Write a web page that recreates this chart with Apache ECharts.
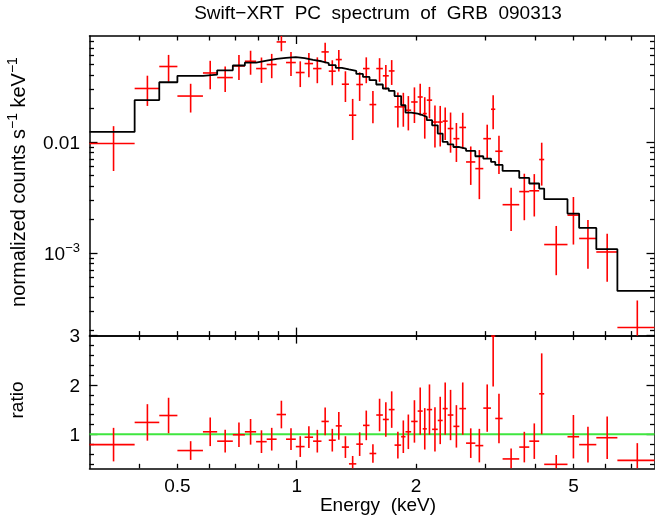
<!DOCTYPE html>
<html><head><meta charset="utf-8">
<script src="https://cdn.jsdelivr.net/npm/echarts@6/dist/echarts.min.js"></script>
<style>html,body{margin:0;padding:0;background:#fff}#c{width:655px;height:522px}</style>
</head><body><div id="c"></div>
<script>
// ---- data ----
const binEdges = [0.30, 0.39, 0.45, 0.50, 0.58, 0.63, 0.69, 0.74, 0.79, 0.84, 0.89, 0.94, 0.995, 1.047, 1.10, 1.155, 1.205, 1.255, 1.30, 1.355, 1.414, 1.47, 1.527, 1.588, 1.65, 1.708, 1.766, 1.835, 1.882, 1.945, 2.02, 2.08, 2.13, 2.197, 2.27, 2.336, 2.405, 2.486, 2.574, 2.676, 2.824, 2.958, 3.094, 3.171, 3.309, 3.645, 3.864, 4.093, 4.214, 4.825, 5.163, 5.705, 6.448, 8.03];
const fluxData = [0.00967, 0.0303, 0.0478, 0.0259, 0.0418, 0.0380, 0.0484, 0.0533, 0.0458, 0.0498, 0.0796, 0.0519, 0.0422, 0.0508, 0.0458, 0.0647, 0.0434, 0.0552, 0.0331, 0.0174, 0.0329, 0.0458, 0.0217, 0.0458, 0.0394, 0.0436, 0.0207, 0.0207, 0.0193, 0.0229, 0.0254, 0.0180, 0.0238, 0.0151, 0.0151, 0.0154, 0.0132, 0.0107, 0.0135, 0.0066, 0.00575, 0.0107, 0.0197, 0.00824, 0.00272, 0.00357, 0.00363, 0.00694, 0.00119, 0.00219, 0.00135, 0.00102, 0.000213];
const fluxErr = [0.0042, 0.0092, 0.013, 0.0075, 0.012, 0.0098, 0.0122, 0.013, 0.0118, 0.0123, 0.014, 0.0127, 0.011, 0.0125, 0.012, 0.0135, 0.011, 0.012, 0.0102, 0.007, 0.0095, 0.012, 0.007, 0.011, 0.0098, 0.011, 0.0072, 0.007, 0.0066, 0.0081, 0.0081, 0.0073, 0.0075, 0.0062, 0.006, 0.005, 0.0052, 0.0041, 0.0048, 0.0025, 0.0027, 0.0036, 0.0067, 0.0031, 0.00114, 0.0016, 0.0015, 0.0029, 0.00056, 0.001, 0.00063, 0.00047, 0.00016];
const modelValues = [0.0123, 0.0238, 0.0345, 0.0394, 0.0404, 0.0442, 0.0488, 0.0519, 0.054, 0.056, 0.0572, 0.058, 0.0568, 0.0548, 0.0533, 0.0512, 0.0491, 0.0465, 0.045, 0.0436, 0.041, 0.0385, 0.036, 0.0329, 0.0303, 0.0288, 0.0259, 0.0214, 0.0184, 0.018, 0.0174, 0.0168, 0.0157, 0.0141, 0.0119, 0.0100, 0.0095, 0.0090, 0.0087, 0.0083, 0.00743, 0.00708, 0.0066, 0.0062, 0.00548, 0.00474, 0.00422, 0.0038, 0.00305, 0.00226, 0.00168, 0.00108, 0.000455];
const ratioData = [0.79, 1.24, 1.38, 0.67, 1.05, 0.86, 0.99, 1.05, 0.85, 0.90, 1.40, 0.90, 0.75, 0.94, 0.86, 1.26, 0.88, 1.17, 0.74, 0.40, 0.80, 1.18, 0.61, 1.39, 1.30, 1.50, 0.78, 0.95, 1.05, 1.26, 1.47, 1.11, 1.50, 1.10, 1.28, 1.52, 1.39, 1.16, 1.52, 0.82, 0.77, 1.53, 2.99, 1.32, 0.50, 0.74, 0.86, 1.82, 0.39, 0.95, 0.79, 0.93, 0.47];
const ratioErr = [0.34, 0.37, 0.36, 0.19, 0.29, 0.23, 0.25, 0.26, 0.23, 0.23, 0.28, 0.22, 0.21, 0.22, 0.23, 0.28, 0.23, 0.28, 0.22, 0.16, 0.24, 0.30, 0.19, 0.33, 0.35, 0.37, 0.27, 0.33, 0.35, 0.43, 0.48, 0.42, 0.51, 0.45, 0.48, 0.53, 0.51, 0.43, 0.53, 0.30, 0.34, 0.48, 1.02, 0.50, 0.21, 0.31, 0.36, 0.82, 0.19, 0.44, 0.36, 0.43, 0.35];
const referenceRatio = [[0.3, 1], [8, 1]];

const xLabelValues = [0.5, 1, 2, 5];
const xMajorTicks = [1];
const xMinorTicks = [0.4, 0.5, 0.6, 0.7, 0.8, 0.9, 2, 3, 4, 5, 6, 7];
const yTopLabelValues = [0.001, 0.01];
const yTopMajorTicks = [0.001, 0.01];
const yTopMinorTicks = [2e-4, 3e-4, 4e-4, 5e-4, 6e-4, 7e-4, 8e-4, 9e-4, 2e-3, 3e-3, 4e-3, 5e-3, 6e-3, 7e-3, 8e-3, 9e-3, 0.02, 0.03, 0.04, 0.05, 0.06, 0.07, 0.08];
const yBotLabelValues = [1, 2, 3];
const yBotMajorTicks = [1, 2, 3];
const yBotMinorTicks = [0.4, 0.6, 0.8, 1.2, 1.4, 1.6, 1.8, 2.2, 2.4, 2.6, 2.8];

const titleText = 'Swift\u2212XRT  PC  spectrum  of  GRB  090313';
const xTitle = 'Energy  (keV)';

// ---- layout ----
const FONT = '"Liberation Sans", Arial, Helvetica, sans-serif';
const X_MIN = 0.3, X_MAX = 8;
const YT_MIN = 1.8e-4, YT_MAX = 0.09;
const YB_MIN = 0.31, YB_MAX = 3;
const grids = [
  {left: 89.5, top: 36, width: 565, height: 299.6, show: false, containLabel: false, outerBoundsMode: 'none'},
  {left: 89.5, top: 335.6, width: 565, height: 132.7, show: false, containLabel: false, outerBoundsMode: 'none'}
];
const richLabel = {
  b: {fontSize: 19, fontFamily: FONT, color: '#000', lineHeight: 22, verticalAlign: 'bottom'},
  s: {fontSize: 13, fontFamily: FONT, color: '#000', lineHeight: 13, verticalAlign: 'top'}
};

function mkAxis(gridIndex, position, type, min, max, ticks, len, showLine, labels, formatter, margin) {
  return {
    type: type, gridIndex: gridIndex, position: position, min: min, max: max, logBase: 10,
    axisLine: {show: showLine, onZero: false, lineStyle: {color: '#000', width: 1.5}},
    axisTick: {show: true, inside: true, length: len, customValues: ticks, lineStyle: {color: '#000', width: 1.3}},
    axisLabel: labels ? {show: true, customValues: labels, formatter: formatter, margin: margin,
      color: '#000', fontSize: 19, fontFamily: FONT, rich: richLabel, hideOverlap: false} : {show: false},
    splitLine: {show: false}, minorTick: {show: false}, minorSplitLine: {show: false},
    silent: true
  };
}
const fmtPlain = v => '{b|' + (+v.toPrecision(6)) + '}';
const fmtTopY = v => Math.abs(v - 0.001) < 1e-9 ? '{b|10}{s|\u22123}' : '{b|0.01}';

const xAxes = [
  mkAxis(0, 'bottom', 'log', X_MIN, X_MAX, xMinorTicks, 4.5, true),
  mkAxis(0, 'top', 'log', X_MIN, X_MAX, xMinorTicks, 4.5, true),
  mkAxis(0, 'bottom', 'log', X_MIN, X_MAX, xMajorTicks, 8, false),
  mkAxis(0, 'top', 'log', X_MIN, X_MAX, xMajorTicks, 8, false),
  mkAxis(1, 'bottom', 'log', X_MIN, X_MAX, xMinorTicks, 4.5, true, xLabelValues, fmtPlain, 6),
  mkAxis(1, 'top', 'log', X_MIN, X_MAX, xMinorTicks, 4.5, true),
  mkAxis(1, 'bottom', 'log', X_MIN, X_MAX, xMajorTicks, 8, false),
  mkAxis(1, 'top', 'log', X_MIN, X_MAX, xMajorTicks, 8, false)
];
const yAxes = [
  mkAxis(0, 'left', 'log', YT_MIN, YT_MAX, yTopMinorTicks, 4.5, true),
  mkAxis(0, 'right', 'log', YT_MIN, YT_MAX, yTopMinorTicks, 4.5, true),
  mkAxis(0, 'left', 'log', YT_MIN, YT_MAX, yTopMajorTicks, 8, false, yTopLabelValues, fmtTopY, 9.5),
  mkAxis(0, 'right', 'log', YT_MIN, YT_MAX, yTopMajorTicks, 8, false),
  mkAxis(1, 'left', 'value', YB_MIN, YB_MAX, yBotMinorTicks, 4.5, true),
  mkAxis(1, 'right', 'value', YB_MIN, YB_MAX, yBotMinorTicks, 4.5, true),
  mkAxis(1, 'left', 'value', YB_MIN, YB_MAX, yBotMajorTicks, 8, false, yBotLabelValues, fmtPlain, 9.5),
  mkAxis(1, 'right', 'value', YB_MIN, YB_MAX, yBotMajorTicks, 8, false)
];

function errRender(params, api) {
  const lo = api.value(0), hi = api.value(1), y = api.value(2), e = api.value(3);
  const cs = params.coordSys;
  const xc = (lo + hi) / 2;
  const p1 = api.coord([lo, y]), p2 = api.coord([hi, y]);
  const pt = api.coord([xc, y + e]);
  const pb = (y - e) > 0 ? api.coord([xc, y - e]) : [pt[0], cs.y + cs.height + 50];
  const cx = v => Math.max(cs.x, Math.min(cs.x + cs.width, v));
  const cy = v => Math.max(cs.y, Math.min(cs.y + cs.height, v));
  const st = {stroke: '#ff0000', lineWidth: 1.6};
  return {type: 'group', children: [
    {type: 'line', shape: {x1: cx(p1[0]), y1: p1[1], x2: cx(p2[0]), y2: p2[1]}, style: st},
    {type: 'line', shape: {x1: pt[0], y1: cy(pt[1]), x2: pb[0], y2: cy(pb[1])}, style: st}
  ]};
}

const fluxRows = fluxData.map((v, i) => [binEdges[i], binEdges[i + 1], v, fluxErr[i]]);
const ratioRows = ratioData.map((v, i) => [binEdges[i], binEdges[i + 1], v, ratioErr[i]]);
const modelSteps = binEdges.map((e, i) => [e, modelValues[Math.min(i, modelValues.length - 1)]]);

const option = {
  animation: false,
  backgroundColor: '#fff',
  textStyle: {fontFamily: FONT},
  grid: grids,
  xAxis: xAxes,
  yAxis: yAxes,
  series: [
    {type: 'line', xAxisIndex: 4, yAxisIndex: 4, data: referenceRatio, symbol: 'none', silent: true,
      lineStyle: {color: '#3fe63f', width: 2}, z: 1},
    {type: 'custom', xAxisIndex: 0, yAxisIndex: 0, renderItem: errRender, data: fluxRows,
      dimensions: ['lo', 'hi', 'y', 'err'], encode: {x: [0, 1], y: [2]}, silent: true, z: 2},
    {type: 'line', xAxisIndex: 0, yAxisIndex: 0, data: modelSteps, step: 'end', symbol: 'none', silent: true,
      clip: true, lineStyle: {color: '#000', width: 1.8}, z: 3},
    {type: 'custom', xAxisIndex: 4, yAxisIndex: 4, renderItem: errRender, data: ratioRows,
      dimensions: ['lo', 'hi', 'y', 'err'], encode: {x: [0, 1], y: [2]}, silent: true, z: 2}
  ],
  graphic: [
    {type: 'text', x: 378, y: 14, silent: true,
      style: {text: titleText, font: '19px ' + FONT, fill: '#000', align: 'center', verticalAlign: 'middle'}},
    {type: 'text', x: 378, y: 506, silent: true,
      style: {text: xTitle, font: '19px ' + FONT, fill: '#000', align: 'center', verticalAlign: 'middle'}},
    {type: 'text', x: 18, y: 182, rotation: Math.PI / 2, silent: true,
      style: {text: '{a|normalized counts s}{s|\u22121}{a| keV}{s|\u22121}', align: 'center', verticalAlign: 'middle',
        rich: {a: {fontSize: 20, fontFamily: FONT, fill: '#000', lineHeight: 23, verticalAlign: 'bottom'},
               s: {fontSize: 14, fontFamily: FONT, fill: '#000', lineHeight: 14, verticalAlign: 'top'}}}},
    {type: 'text', x: 18, y: 400, rotation: Math.PI / 2, silent: true,
      style: {text: 'ratio', font: '19px ' + FONT, fill: '#000', align: 'center', verticalAlign: 'middle'}}
  ]
};
const chart = echarts.init(document.getElementById('c'), null, {renderer: 'canvas'});
chart.setOption(option);
</script>
</body></html>
